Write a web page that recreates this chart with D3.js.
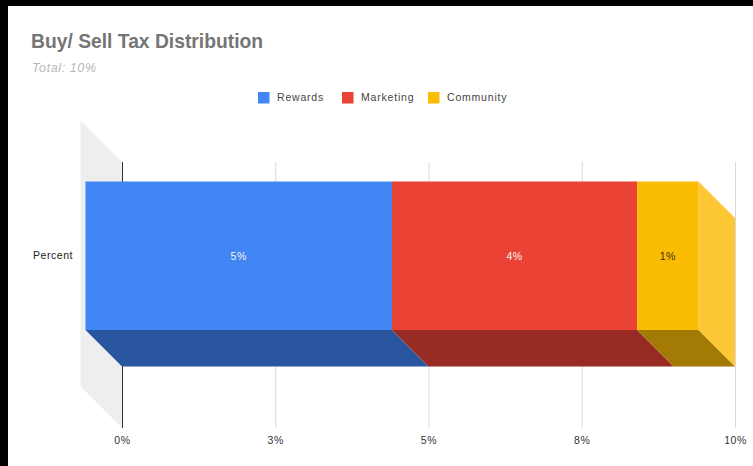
<!DOCTYPE html>
<html>
<head>
<meta charset="utf-8">
<script src="https://cdn.jsdelivr.net/npm/d3@7/dist/d3.min.js"></script>
<style>
html, body { margin: 0; padding: 0; background: #000; }
svg { display: block; font-family: "Liberation Sans", Arial, sans-serif; }
</style>
</head>
<body>
<svg id="chart" width="753" height="466"></svg>
<script>
// Tax split shown as a single stacked bar
const categories = ["Percent"];
const seriesNames = ["Rewards", "Marketing", "Community"];
const seriesValues = [5, 4, 1];
const valueLabels = ["5%", "4%", "1%"];
const tickValues = [0, 2.5, 5, 7.5, 10];
const tickLabels = ["0%", "3%", "5%", "8%", "10%"];
const frontColors = ["#4285f4", "#ea4335", "#fbbc04"];
const floorColors = ["#2a56a0", "#982b24", "#a37a03"];

const svg = d3.select("#chart");
svg.append("rect").attr("x", 8).attr("y", 6).attr("width", 745).attr("height", 460).attr("fill", "#fff");

// Depth of the extruded bar and of the back wall, in pixels
const barDepth = 36.5;
const wallDepth = 41.5;

const x = d3.scaleLinear().domain([0, 10]).range([122, 735]);
const band = d3.scaleBand().domain(categories).range([162, 428]);
const plotBottom = band.range()[1];
const plotTop = band.range()[0];
const barBack = { top: 218, bottom: 366.5 };
const barFront = { top: barBack.top - barDepth, bottom: barBack.bottom - barDepth };

const poly = pts => d3.line()(pts) + "Z";

// Titles
svg.append("text").attr("x", 31).attr("y", 47.5).attr("font-size", 19.3).attr("font-weight", 700)
  .attr("fill", "#757575").text("Buy/ Sell Tax Distribution");
svg.append("text").attr("x", 32).attr("y", 71.5).attr("font-size", 12.5).attr("font-style", "italic")
  .attr("letter-spacing", 0.6).attr("fill", "#b7b7b7").text("Total: 10%");

// Legend
const legendSwatch = [258, 342, 428];
const legendText = [277, 361, 447];
seriesNames.forEach((name, i) => {
  svg.append("rect").attr("x", legendSwatch[i]).attr("y", 92).attr("width", 11.5).attr("height", 11.5)
    .attr("fill", frontColors[i]);
  svg.append("text").attr("x", legendText[i]).attr("y", 101).attr("font-size", 10.5)
    .attr("letter-spacing", 0.8).attr("fill", "#444").text(name);
});

// Back wall, sheared towards the viewer
svg.append("path").attr("fill", "#eeeeee").attr("d", poly([
  [x(0), plotTop], [x(0) - wallDepth, plotTop - wallDepth],
  [x(0) - wallDepth, plotBottom - wallDepth], [x(0), plotBottom]
]));

// Gridlines and baseline through the value axis
const axis = d3.axisBottom(x).tickValues(tickValues).tickSize(0).tickPadding(0)
  .tickFormat((d, i) => tickLabels[i]);
const axisG = svg.append("g").attr("transform", `translate(0,${plotBottom})`).call(axis);
axisG.select(".domain").remove();
axisG.selectAll("text").attr("font-size", 10.5).attr("letter-spacing", 0.55).attr("fill", "#333")
  .attr("font-family", "'Liberation Sans', Arial, sans-serif").attr("dy", null).attr("y", 16);
axisG.selectAll(".tick").append("line")
  .attr("y1", 0).attr("y2", plotTop - plotBottom)
  .attr("stroke", d => d === 0 ? "#333" : "#d9d9d9").attr("stroke-width", 1);

// Stack offsets
const stackEnds = d3.cumsum(seriesValues);
const stackStarts = stackEnds.map((e, i) => e - seriesValues[i]);

// Floor of each segment, then the right-hand cap, then the front faces
const floors = svg.append("g");
seriesNames.forEach((name, i) => {
  const a = x(stackStarts[i]), b = x(stackEnds[i]);
  floors.append("path").attr("fill", floorColors[i]).attr("d", poly([
    [a - barDepth, barFront.bottom], [b - barDepth, barFront.bottom],
    [b, barBack.bottom], [a, barBack.bottom]
  ]));
});

const capX = x(stackEnds[stackEnds.length - 1]);
svg.append("path").attr("fill", "#fdc735").attr("d", poly([
  [capX - barDepth, barFront.top], [capX, barBack.top],
  [capX, barBack.bottom], [capX - barDepth, barFront.bottom]
]));

svg.append("g").selectAll("rect").data(seriesValues).join("rect")
  .attr("x", (d, i) => x(stackStarts[i]) - barDepth)
  .attr("y", barFront.top)
  .attr("width", d => x(d) - x(0))
  .attr("height", barFront.bottom - barFront.top)
  .attr("fill", (d, i) => frontColors[i]);

// Segment value labels
svg.append("g").selectAll("text").data(seriesValues).join("text")
  .attr("x", (d, i) => x(stackStarts[i] + d / 2) - barDepth)
  .attr("y", 259.5)
  .attr("text-anchor", "middle").attr("font-size", 10.5).attr("letter-spacing", 0.55)
  .attr("fill", (d, i) => i === 2 ? "#3a2d00" : "#f4f4f4")
  .text((d, i) => valueLabels[i]);

// Category label
svg.append("text").attr("x", 73).attr("y", 259).attr("text-anchor", "end")
  .attr("font-size", 10.5).attr("letter-spacing", 0.55).attr("fill", "#222").text(categories[0]);
</script>
</body>
</html>
